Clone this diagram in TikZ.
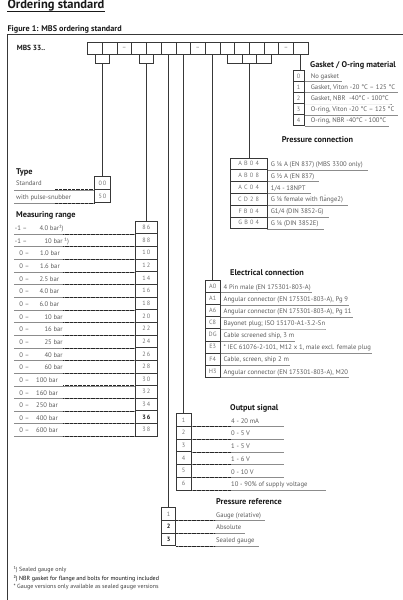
\documentclass[tikz,border=0pt]{standalone}
\usepackage{fontspec}
\setmainfont{PT Sans}
\definecolor{lc}{gray}{0.22}
\definecolor{gc}{gray}{0.45}
\definecolor{tc}{gray}{0.36}
\definecolor{hc}{gray}{0.1}
\newcommand\lsp[4]{#1\kern2.2pt#2\kern2.2pt#3\kern2.2pt#4}
\begin{document}
\begin{tikzpicture}[x=1pt,y=-1pt,
  cell/.style={draw=lc,line width=0.6pt,inner sep=0pt,anchor=north west,font=\fontsize{6.2}{6.5}\selectfont,text=gc},
  item/.style={inner sep=0pt,anchor=base west,font=\fontsize{6.65}{7.5}\selectfont,text=tc},
  head/.style={inner sep=0pt,anchor=base west,font=\bfseries\fontsize{8.3}{9}\selectfont,text=hc},
  conn/.style={draw=lc,line width=0.7pt},
  rowline/.style={draw=black!45,line width=0.45pt},
  leader/.style={draw=black!85,line width=0.6pt,dash pattern=on 0.6pt off 0.7pt}]
\useasboundingbox (0,0) rectangle (403,600);

% titles and frame
\node[inner sep=0pt,anchor=base west,font=\bfseries\fontsize{12.5}{14}\selectfont,text=hc] (title) at (7.3,8.9) {Ordering standard};
\coordinate (ul) at (0,11.6);
\draw[line width=0.8pt,hc] (ul -| title.west) -- (ul -| title.east);
\node[head,font=\bfseries\fontsize{8.2}{9}\selectfont] (fig) at (7.3,31) {Figure 1: MBS ordering standard};
\draw[line width=0.8pt,lc] (403,34.3) -- (7.3,34.3) -- (7.3,600);
\node[head,font=\bfseries\fontsize{7.4}{8}\selectfont] (mbs) at (16.7,50.8) {MBS 33..};

\coordinate (yb) at (0,63.3);
\coordinate (xl) at (14,0);

% top code boxes
\foreach \i in {1,...,15}{
  \node[cell,minimum width=14.7pt,minimum height=12.6pt] (t\i) at ({87.3+(\i-1)*14.7},41.7) {};
}
\foreach \i in {3,8,14}{
  \node[text=gc,font=\fontsize{6.5}{7}\selectfont,inner sep=0pt] (d\i) at (t\i) {–};
}
\draw[conn] (t1.south) -- (t1.south |- yb) -- (t2.south |- yb) -- (t2.south);
\draw[conn] (t4.south) -- (t4.south |- yb) -- (t5.south |- yb) -- (t5.south);
\draw[conn] (t10.south) -- (t10.south |- yb) -- (t13.south |- yb) -- (t13.south);
\draw[conn] (t11.south) -- (t11.south |- yb);
\draw[conn] (t12.south) -- (t12.south |- yb);

% Gasket / O-ring material
\node[head] (hg) at (310,67.3) {Gasket / O-ring material};
\foreach \lab/\txt [count=\n from 0] in {0/{No gasket},1/{Gasket, Viton -20 °C – 125 °C},2/{Gasket, NBR \ -40°C - 100°C},3/{O-ring, Viton -20 °C – 125 °C},4/{O-ring, NBR -40°C - 100°C}}{
  \node[cell,minimum width=11.3pt,minimum height=11.06pt] (g\n) at (292.7,{70+\n*11.06}) {\lab};
  \node[item] (gt\n) at (310.7,{70+(\n+1)*11.06-2.8}) {\txt};
  \draw[rowline] (g\n.south east) -- (g\n.south east -| gt\n.east) -- ++(3,0);
}
\draw[conn] (t15.south) -- (t15.south |- g0.north);

% Pressure connection
\node[head] (hp) at (281.7,142.8) {Pressure connection};
\foreach \lab/\txt [count=\n from 0] in {{\lsp AB04}/{G ¼ A (EN 837) (MBS 3300 only)},{\lsp AB08}/{G ½ A (EN 837)},{\lsp AC04}/{1/4 - 18NPT},{\lsp CD28}/{G ¼ female with flange2)},{\lsp FB04}/{G1/4 (DIN 3852-G)},{\lsp GB04}/{G ¼ (DIN 3852E)}}{
  \node[cell,minimum width=36.7pt,minimum height=11.8pt] (p\n) at (230,{157.5+\n*11.8}) {\lab};
  \node[item] (pt\n) at (270.7,{157.5+(\n+1)*11.8-2.8}) {\txt};
  \draw[rowline] (p\n.south east) -- (p\n.south east -| pt\n.east) -- ++(5,0);
}
\draw[conn] (t11.south east |- yb) -- (t11.south east |- p0.north);
\fill[black!60] (325,195) circle (0.5);

% Type
\node[head] (hty) at (16,174.3) {Type};
\foreach \lab/\txt [count=\n from 0] in {{0\,0}/Standard,{5\,0}/{with pulse-snubber}}{
  \node[cell,minimum width=15.7pt,minimum height=13.15pt] (ty\n) at (94.3,{176+\n*13.15}) {\lab};
  \node[item] (tyt\n) at (16,{176+(\n+1)*13.15-3.2}) {\txt};
  \draw[rowline] (ty\n.south west) -- (ty\n.south west -| xl);
  \draw[leader] (ty\n.south west) -- ++(-40,0);
}
\draw[conn] (t1.south east |- yb) -- (t1.south east |- ty0.north);

% Measuring range
\node[head] (hm) at (16,217.8) {Measuring range};
\foreach \lab/\px/\pre/\vx/\val [count=\n from 0] in {
  {8\,6}/14.7/{-1 –}/39.3/{4.0 bar¹)},
  {8\,8}/14.7/{-1 –}/44.3/{10 bar ¹)},
  {1\,0}/19.3/{0 –}/40/{1.0 bar},
  {1\,2}/19.3/{0 –}/40/{1.6 bar},
  {1\,4}/19.3/{0 –}/39.3/{2.5 bar},
  {1\,6}/19.3/{0 –}/39.3/{4.0 bar},
  {1\,8}/19.3/{0 –}/39.3/{6.0 bar},
  {2\,0}/19.3/{0 –}/44.3/{10 bar},
  {2\,2}/19.3/{0 –}/44.3/{16 bar},
  {2\,4}/19.3/{0 –}/44.3/{25 bar},
  {2\,6}/19.3/{0 –}/44.3/{40 bar},
  {2\,8}/19.3/{0 –}/44.3/{60 bar},
  {3\,0}/19.3/{0 –}/36/{100 bar},
  {3\,2}/19.3/{0 –}/36/{160 bar},
  {3\,4}/19.3/{0 –}/36/{250 bar},
  {\textbf{\color{hc}3\,6}}/19.3/{0 –}/36/{400 bar},
  {3\,8}/19.3/{0 –}/36/{600 bar}}{
  \node[cell,minimum width=21.4pt,minimum height=12.65pt] (r\n) at (135.3,{220.7+\n*12.65}) {\lab};
  \node[item] (rp\n) at (\px,{220.7+(\n+1)*12.65-2.8}) {\pre};
  \node[item] (rv\n) at (\vx,{220.7+(\n+1)*12.65-2.8}) {\val};
  \draw[rowline] (r\n.south west) -- (r\n.south west -| xl);
  \draw[leader] (r\n.south west) -- ++(-72,0);
}
\draw[conn] (t4.south east |- yb) -- (t4.south east |- r0.north);

% Electrical connection
\node[head] (he) at (230,275.3) {Electrical connection};
\foreach \lab/\txt [count=\n from 0] in {A0/{4 Pin male (EN 175301-803-A)},A1/{Angular connector (EN 175301-803-A), Pg 9},A6/{Angular connector (EN 175301-803-A), Pg 11},C8/{Bayonet plug; ISO 15170-A1-3.2-Sn},DG/{Cable screened ship, 3 m},E3/{* IEC 61076-2-101, M12 x 1, male excl. female plug},F4/{Cable, screen, ship 2 m},H3/{Angular connector (EN 175301-803-A), M20}}{
  \node[cell,minimum width=15.3pt,minimum height=12.1pt] (e\n) at (204.7,{280+\n*12.1}) {\lab};
  \node[item] (et\n) at (223.5,{280+(\n+1)*12.1-2.8}) {\txt};
  \draw[rowline] (e\n.south east) -- (e\n.south east -| et\n.east) -- ++(1,0);
}
\draw[conn] (t9.south) -- (t9.south |- e0.north);

% Output signal
\node[head] (ho) at (230,410.8) {Output signal};
\foreach \lab/\txt/\xe [count=\n from 0] in {1/{4 - 20 mA}/283,2/{0 - 5 V}/283,3/{1 - 5 V}/283,4/{1 - 6 V}/283,5/{0 - 10 V}/283,6/{10 - 90\% of supply voltage}/325}{
  \node[cell,minimum width=14.7pt,minimum height=12.7pt] (o\n) at (176,{413.3+\n*12.7}) {\lab};
  \node[item] (ot\n) at (231,{413.3+(\n+1)*12.7-2.8}) {\txt};
  \draw[rowline] (o\n.south east) -- ++({\xe-190.7},0);
  \draw[leader] (o\n.south east) -- ++(40,0);
}
\draw[conn] (t7.south) -- (t7.south |- o0.north);

% Pressure reference
\node[head] (hr) at (216,504.1) {Pressure reference};
\foreach \lab/\txt [count=\n from 0] in {1/{Gauge (relative)},{\textbf{\color{hc}2}}/Absolute,{\textbf{\color{hc}3}}/{Sealed gauge}}{
  \node[cell,minimum width=14pt,minimum height=12.67pt] (pr\n) at (161.3,{507.3+\n*12.67}) {\lab};
  \node[item] (prt\n) at (216,{507.3+(\n+1)*12.67-2.8}) {\txt};
  \draw[rowline] (pr\n.south east) -- (pr\n.south east -| prt\n.east) -- ++(4,0);
  \draw[leader] (pr\n.south east) -- ++(39,0);
}
\draw[conn] (t6.south) -- (t6.south |- pr0.north);

% footnotes
\node[item,font=\fontsize{6}{7}\selectfont,text=black!75] (f1) at (13.3,571.3) {¹) Sealed gauge only};
\node[item,font=\fontsize{6}{7}\selectfont,text=black!95] (f2) at (13.3,580) {²) NBR gasket for flange and bolts for mounting included};
\node[item,font=\fontsize{6}{7}\selectfont,text=black!75] (f3) at (13.3,588.7) {* Gauge versions only available as sealed gauge versions};
\end{tikzpicture}
\end{document}
